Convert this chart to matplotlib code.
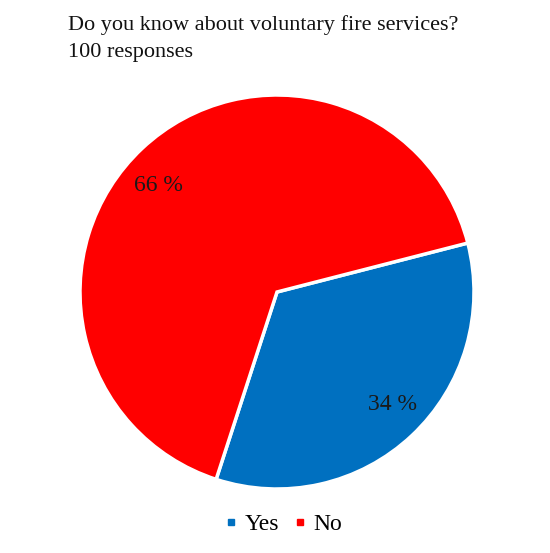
import matplotlib
matplotlib.use("Agg")
import matplotlib.pyplot as plt
from matplotlib.lines import Line2D
import numpy as np

categories = ["Yes", "No"]
values = [34, 66]
colors = ["#0070C0", "#FF0000"]
title_lines = ["Do you know about voluntary fire services?", "100 responses"]

plt.rcParams['font.family'] = ['Liberation Serif', 'DejaVu Serif']

W, H = 550, 553
fig = plt.figure(figsize=(W/100, H/100), dpi=100)
cx, cy, r = 277, 553-292, 197
ax = fig.add_axes([(cx-r)/W, (cy-r)/H, 2*r/W, 2*r/H])
wedges, texts, autotexts = ax.pie(values, colors=colors, startangle=14.4, counterclock=False,
       autopct=lambda p: f"{p:.0f} %", pctdistance=0.81,
       wedgeprops=dict(edgecolor="white", linewidth=2.5),
       textprops=dict(fontsize=17, color="#1a1a1a"))
# label placement (polar angle offsets from wedge middle, distance fraction)
label_shift = [2.6, 5.0]
label_dist = [0.82, 0.81]
for w, t, s, d in zip(wedges, autotexts, label_shift, label_dist):
    a = np.deg2rad((w.theta1 + w.theta2) / 2 + s)
    t.set_position((d*np.cos(a), d*np.sin(a)))
ax.set_xlim(-1, 1); ax.set_ylim(-1, 1)
ax.set_aspect('equal')
ax.axis('off')

fig.text(68/W, 1-15/H, title_lines[0], fontsize=16, va='top', ha='left', color="#111111")
fig.text(68/W, 1-43/H, title_lines[1], fontsize=16, va='top', ha='left', color="#111111")

handles = [Line2D([], [], marker='s', linestyle='none', markersize=5, color=c) for c in colors]
fig.legend(handles, categories, loc='center', bbox_to_anchor=(284/W, 1-524/H), ncol=2,
           frameon=False, fontsize=17, handlelength=0.45, handletextpad=0.35, columnspacing=0.65)

fig.savefig("out.png", dpi=100)
